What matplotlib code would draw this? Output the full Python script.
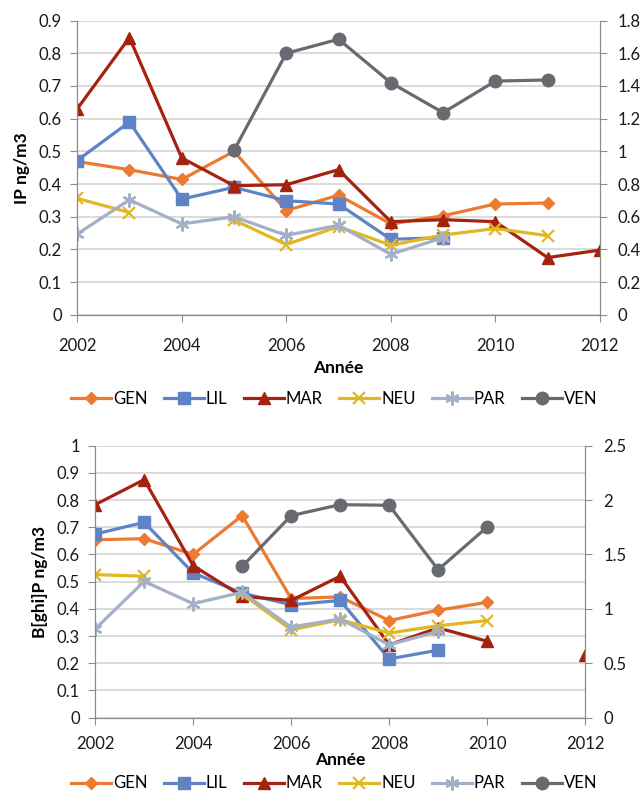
import numpy as np
import matplotlib
matplotlib.use("Agg")
import matplotlib.pyplot as plt
from matplotlib.ticker import FuncFormatter

plt.rcParams['font.family'] = ['Lato', 'DejaVu Sans']

nan = np.nan
years = np.arange(2002, 2013)

# IP (ng/m3) par site ; VEN sur l'axe de droite
ip_gen = [0.469, 0.444, 0.414, 0.500, 0.319, 0.366, 0.278, 0.303, 0.339, 0.342, nan]
ip_lil = [0.472, 0.590, 0.354, 0.390, 0.349, 0.339, 0.231, 0.236, nan, nan, nan]
ip_mar = [0.630, 0.848, 0.480, 0.395, 0.398, 0.444, 0.285, 0.291, 0.285, 0.175, 0.198]
ip_neu = [0.356, 0.313, nan, 0.290, 0.215, 0.270, 0.213, 0.244, 0.264, 0.242, nan]
ip_par = [0.247, 0.352, 0.278, 0.300, 0.243, 0.274, 0.185, 0.236, nan, nan, nan]
ip_ven = [nan, nan, nan, 1.006, 1.600, 1.686, 1.420, 1.237, 1.430, 1.437, nan]

# B[ghi]P (ng/m3) par site ; VEN sur l'axe de droite
bp_gen = [0.654, 0.658, 0.600, 0.743, 0.438, 0.444, 0.357, 0.395, 0.424, nan, nan]
bp_lil = [0.675, 0.718, 0.532, 0.458, 0.415, 0.431, 0.216, 0.248, nan, nan, nan]
bp_mar = [0.783, 0.875, 0.559, 0.446, 0.431, 0.520, 0.268, 0.330, 0.281, nan, 0.232]
bp_neu = [0.526, 0.520, nan, 0.455, 0.323, 0.360, 0.311, 0.338, 0.357, nan, nan]
bp_par = [0.326, 0.501, 0.419, 0.461, 0.333, 0.363, 0.268, 0.317, nan, nan, nan]
bp_ven = [nan, nan, nan, 1.390, 1.857, 1.958, 1.952, 1.360, 1.752, nan, nan]

sites = ['GEN', 'LIL', 'MAR', 'NEU', 'PAR', 'VEN']
colors = ['#EC7A32', '#5E84C5', '#A5220F', '#E1B722', '#A3B0C8', '#676B71']
markers = ['D', 's', '^', 'x', (6, 2, 0), 'o']
msizes = [6.5, 9, 9, 9, 10, 9]

grid_col = '#D4D4D4'
axis_col = '#8C8C8C'


def style_axes(ax, ax2, ymax, ystep, ymax2, ystep2, xpad, xlabpad):
    ax.set_xlim(2002, 2012)
    ax.set_xticks(np.arange(2002, 2013, 2))
    ax.set_ylim(0, ymax)
    ax.set_yticks(np.arange(0, ymax + 1e-9, ystep))
    ax2.set_ylim(0, ymax2)
    ax2.set_yticks(np.arange(0, ymax2 + 1e-9, ystep2))
    fmt = FuncFormatter(lambda v, p: ('%.2f' % v).rstrip('0').rstrip('.'))
    ax.yaxis.set_major_formatter(fmt)
    ax2.yaxis.set_major_formatter(fmt)
    ax.grid(axis='y', color=grid_col, lw=1.2)
    ax.set_axisbelow(True)
    for a in (ax, ax2):
        a.spines['top'].set_visible(False)
        for s in ('left', 'right', 'bottom'):
            a.spines[s].set_color(axis_col)
        a.tick_params(axis='both', colors=axis_col, labelcolor='#1A1A1A',
                      labelsize=12, length=5)
    ax.tick_params(axis='y', pad=6)
    ax2.tick_params(axis='y', pad=8)
    ax.tick_params(axis='x', pad=xpad)
    ax.set_xlabel('Année', fontsize=12.5, fontweight='bold', labelpad=xlabpad)


def draw(ax, series, ylabel, ymax, ystep, ymax2, ystep2, leg_y, xpad, xlabpad):
    ax2 = ax.twinx()
    handles = []
    for i, (name, vals) in enumerate(zip(sites, series)):
        target = ax2 if name == 'VEN' else ax
        mew = 1.6 if markers[i] in ('x', (6, 2, 0)) else 1
        h, = target.plot(years, vals, color=colors[i], lw=2.3, marker=markers[i],
                         ms=msizes[i], mew=mew, label=name)
        handles.append(h)
    style_axes(ax, ax2, ymax, ystep, ymax2, ystep2, xpad, xlabpad)
    ax.set_ylabel(ylabel, fontsize=12.5, fontweight='bold', labelpad=6)
    ax.legend(handles=handles, loc='center', bbox_to_anchor=(0.52, leg_y),
              bbox_transform=ax.figure.transFigure, ncol=6, frameon=False,
              fontsize=12, handlelength=2.4, columnspacing=1.0,
              handletextpad=0.1, borderpad=0.1)


fig = plt.figure(figsize=(6.43, 7.93), dpi=100)
ax_top = fig.add_axes([0.120, 0.603, 0.813, 0.371])
ax_bot = fig.add_axes([0.148, 0.095, 0.762, 0.343])

draw(ax_top, [ip_gen, ip_lil, ip_mar, ip_neu, ip_par, ip_ven],
     'IP ng/m3', 0.9, 0.1, 1.8, 0.2, 0.497, 12, 4)
draw(ax_bot, [bp_gen, bp_lil, bp_mar, bp_neu, bp_par, bp_ven],
     'B[ghi]P ng/m3', 1.0, 0.1, 2.5, 0.5, 0.012, 8, 0)

fig.savefig('out.png', dpi=100)
